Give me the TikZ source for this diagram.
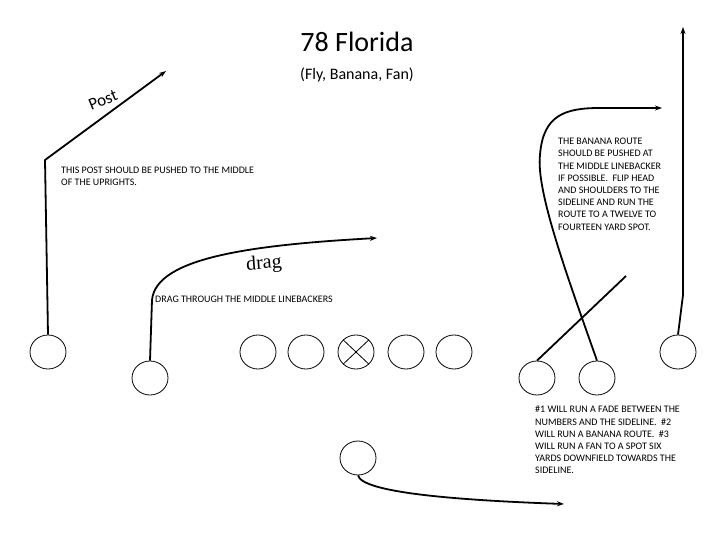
\documentclass[tikz,border=0pt]{standalone}
\usepackage{fontspec}
\setmainfont{Carlito}
\usetikzlibrary{shapes.geometric,arrows.meta}
\begin{document}
\begin{tikzpicture}[x=1pt,y=-1pt,
  player/.style={draw,ellipse,minimum width=36pt,minimum height=34pt,inner sep=0pt,line width=0.8pt},
  center/.style={player,path picture={\draw[line width=0.8pt] (path picture bounding box.north west)--(path picture bounding box.south east) (path picture bounding box.north east)--(path picture bounding box.south west);}},
  route/.style={line width=1.8pt,line join=round},
  arr/.style={route,-{Stealth[length=7pt,width=5pt]}},
  note/.style={font=\fontsize{10}{12.2}\selectfont,align=left,inner sep=0pt,anchor=north west}]
\useasboundingbox[fill=white] (0,0) rectangle (720,540);
% title
\node[font=\fontsize{28}{32}\selectfont] (title) at (357,42) {78 Florida};
\node[font=\fontsize{16}{19}\selectfont] (sub) at (357,75) {(Fly, Banana, Fan)};
% players
\node[player] (p1) at (48,352) {};
\node[player] (p2) at (150,378) {};
\node[player] (t1) at (258,352) {};
\node[player] (t2) at (306,352) {};
\node[center] (c) at (356,352) {};
\node[player] (t3) at (406,352) {};
\node[player] (t4) at (454,352) {};
\node[player] (p3) at (537,378) {};
\node[player] (p4) at (597,378) {};
\node[player] (p5) at (678,352) {};
\node[player] (qb) at (358,458) {};
% route points
\coordinate (postbreak) at (45,160);
\coordinate (postend) at (166,71);
\coordinate (dragbreak) at (152,300);
\coordinate (dragend) at (377,238);
\coordinate (banA) at (540,155);
\coordinate (banend) at (662,108);
\coordinate (fadebreak) at (683,295);
\coordinate (fadeend) at (683,27);
\coordinate (fanend) at (626,276);
\coordinate (qbend) at (564,504);
% routes
\draw[arr] (p1.north) -- (postbreak) -- (postend);
\draw[arr] (p2.north) -- (dragbreak) .. controls (156,258) and (250,245) .. (dragend);
\draw[arr] (p4.north) .. controls (565,270) and (536,190) .. (banA) .. controls (543,115) and (565,108) .. (600,108) -- (banend);
\draw[arr] (p5.north) -- (fadebreak) -- (fadeend);
\draw[route] (p3.north) -- (fanend);
\draw[arr] (qb.south) .. controls (362,492) and (450,500) .. (qbend);
% labels
\node[font=\fontsize{17}{20}\selectfont,rotate=22] (postlbl) at (103,100) {Post};
\node[font=\fontsize{20}{22}\selectfont,rotate=4] (draglbl) at (264,264) {\fontspec{Liberation Serif}drag};
\node[note] (postnote) at (61,167) {THIS POST SHOULD BE PUSHED TO THE MIDDLE\\OF THE UPRIGHTS.};
\node[note] (bannote) at (558,138) {THE BANANA ROUTE\\SHOULD BE PUSHED AT\\THE MIDDLE LINEBACKER\\IF POSSIBLE.\ \ FLIP HEAD\\AND SHOULDERS TO THE\\SIDELINE AND RUN THE\\ROUTE TO A TWELVE TO\\FOURTEEN YARD SPOT.};
\node[note] (dragnote) at (155,296) {DRAG THROUGH THE MIDDLE LINEBACKERS};
\node[note] (fadenote) at (535,406) {\#1 WILL RUN A FADE BETWEEN THE\\NUMBERS AND THE SIDELINE.\ \ \#2\\WILL RUN A BANANA ROUTE.\ \ \#3\\WILL RUN A FAN TO A SPOT SIX\\YARDS DOWNFIELD TOWARDS THE\\SIDELINE.};
\end{tikzpicture}
\end{document}
